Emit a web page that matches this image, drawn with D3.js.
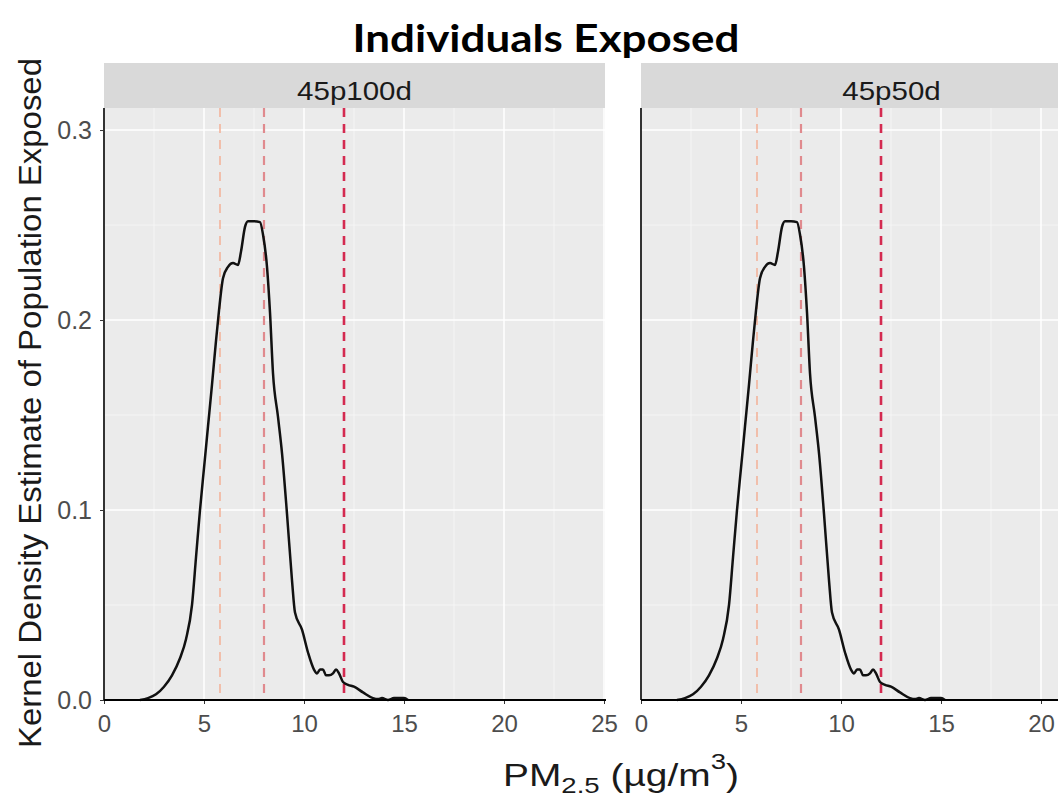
<!DOCTYPE html>
<html>
<head>
<meta charset="utf-8">
<script src="https://cdn.jsdelivr.net/npm/d3@7"></script>
<style>
  body { margin: 0; background: #fff; }
  svg { display: block; }
</style>
</head>
<body>
<script>
// facets and the density curve
var facets = ["45p100d", "45p50d"];
var pmX = [1.8, 2.2, 2.6, 3.0, 3.4, 3.8, 4.1, 4.4, 4.6, 4.8, 5.0, 5.2, 5.4, 5.6, 5.75, 5.95,
  6.2, 6.45, 6.7, 6.85, 7.05, 7.2, 7.5, 7.8, 7.95, 8.15, 8.3, 8.45, 8.7, 8.9, 9.15,
  9.4, 9.55, 9.9, 10.2, 10.5, 10.65, 10.8, 10.95, 11.1, 11.25, 11.45, 11.6, 11.75,
  11.95, 12.2, 12.5, 12.95, 13.45, 13.7, 13.9, 14.2, 14.5, 15.0, 15.2];
var densityY = [0, 0.001, 0.003, 0.007, 0.013, 0.022, 0.032, 0.05, 0.075, 0.1, 0.122,
  0.144, 0.166, 0.189, 0.205, 0.222, 0.228, 0.230, 0.229, 0.236, 0.249, 0.252, 0.252, 0.2515,
  0.245, 0.228, 0.204, 0.172, 0.149, 0.130, 0.098, 0.063, 0.046, 0.037, 0.025, 0.016,
  0.014, 0.016, 0.016, 0.013, 0.013, 0.014, 0.016, 0.014, 0.0095, 0.008, 0.007, 0.004,
  0.001, 0.0005, 0.001, 0, 0.001, 0.001, 0];
// reference lines (PM2.5 thresholds)
var refValues = [5.8, 8, 12];
var refColors = ["#f3b49c", "#e08a8e", "#d42a50"];
var refWidths = [1.6, 2.2, 2.6];
var xTicks = [0, 5, 10, 15, 20, 25];
var yTicks = [0, 0.1, 0.2, 0.3];

var totalWidth = 1058, totalHeight = 797;
var panelTop = 108, panelBottom = 700, panelW = 501;
var panelLeft = [104, 641];
var stripTop = 63;
var sans = "Liberation Sans, Arial, sans-serif";

var svg = d3.select("body").append("svg")
    .attr("width", totalWidth)
    .attr("height", totalHeight);

svg.append("rect").attr("width", totalWidth).attr("height", totalHeight).attr("fill", "#fff");

var x = d3.scaleLinear().domain([0, 25]).range([0, 500]);
var y = d3.scaleLinear().domain([0, 0.3116]).range([panelBottom - panelTop, 0]);

var points = pmX.map(function(d, i) { return [d, densityY[i]]; });
var line = d3.line()
    .x(function(d) { return x(d[0]); })
    .y(function(d) { return y(d[1]); })
    .curve(d3.curveMonotoneX);

facets.forEach(function(name, i) {
    var g = svg.append("g")
        .attr("transform", "translate(" + panelLeft[i] + "," + panelTop + ")");
    var h = panelBottom - panelTop;

    g.append("rect").attr("width", panelW).attr("height", h).attr("fill", "#ebebeb");

    // minor grid
    d3.range(2.5, 25, 5).forEach(function(v) {
        g.append("line").attr("x1", x(v)).attr("x2", x(v)).attr("y1", 0).attr("y2", h)
            .attr("stroke", "#f7f7f7").attr("stroke-width", 0.8);
    });
    [0.05, 0.15, 0.25].forEach(function(v) {
        g.append("line").attr("x1", 0).attr("x2", panelW).attr("y1", y(v)).attr("y2", y(v))
            .attr("stroke", "#f7f7f7").attr("stroke-width", 0.8);
    });
    // major grid
    xTicks.forEach(function(v) {
        g.append("line").attr("x1", x(v)).attr("x2", x(v)).attr("y1", 0).attr("y2", h)
            .attr("stroke", "#fff").attr("stroke-width", 1.5);
    });
    yTicks.forEach(function(v) {
        g.append("line").attr("x1", 0).attr("x2", panelW).attr("y1", y(v)).attr("y2", y(v))
            .attr("stroke", "#fff").attr("stroke-width", 1.5);
    });

    // dashed reference lines
    g.selectAll("line.ref")
        .data(refValues)
        .enter()
        .append("line")
            .attr("class", "ref")
            .attr("x1", function(d) { return x(d); })
            .attr("x2", function(d) { return x(d); })
            .attr("y1", 0).attr("y2", h)
            .attr("stroke", function(d, j) { return refColors[j]; })
            .attr("stroke-width", function(d, j) { return refWidths[j]; })
            .attr("stroke-dasharray", "9,7");

    g.append("path")
        .attr("d", line(points))
        .attr("fill", "none")
        .attr("stroke", "#111")
        .attr("stroke-width", 2.5)
        .attr("stroke-linejoin", "round");

    // axes
    var xAxis = d3.axisBottom(x).tickValues(xTicks).tickSize(4).tickPadding(11);
    var ax = g.append("g").attr("transform", "translate(0," + h + ")").call(xAxis);
    ax.select(".domain").remove();
    ax.selectAll(".tick line").attr("stroke", "#333");
    ax.selectAll("text").attr("fill", "#4d4d4d").style("font-family", sans)
        .style("font-size", "24px");

    g.append("line").attr("x1", 0).attr("x2", panelW + 1).attr("y1", h).attr("y2", h)
        .attr("stroke", "#000").attr("stroke-width", 2);
    g.append("line").attr("x1", 0).attr("x2", 0).attr("y1", 0).attr("y2", h)
        .attr("stroke", "#000").attr("stroke-width", 1.6);

    if (i === 0) {
        var yAxis = d3.axisLeft(y).tickValues(yTicks).tickFormat(d3.format(".1f")).tickSize(4).tickPadding(8);
        var ay = g.append("g").call(yAxis);
        ay.select(".domain").remove();
        ay.selectAll(".tick line").attr("stroke", "#333");
        ay.selectAll("text").attr("fill", "#4d4d4d").style("font-family", sans)
            .style("font-size", "25px");
    }

    // strip
    svg.append("rect")
        .attr("x", panelLeft[i]).attr("y", stripTop)
        .attr("width", panelW).attr("height", panelTop - stripTop)
        .attr("fill", "#d9d9d9");
    svg.append("text")
        .attr("x", panelLeft[i] + panelW / 2).attr("y", stripTop + 37)
        .attr("text-anchor", "middle")
        .attr("fill", "#1a1a1a")
        .attr("textLength", name.length * 16.4)
        .attr("lengthAdjust", "spacingAndGlyphs")
        .style("font-family", sans)
        .style("font-size", "25px")
        .text(name);
});

// stretch a text horizontally so that it spans the width seen in the picture
function fitWidth(sel, cx, by, w) {
    var bb = sel.node().getBBox();
    var s = w / bb.width;
    sel.attr("transform", "translate(" + cx + "," + by + ") scale(" + s + ",1)");
}

// title
var title = svg.append("text")
    .attr("text-anchor", "middle")
    .style("font-family", "Lato, sans-serif")
    .style("font-weight", "bold")
    .style("font-size", "38px")
    .text("Individuals Exposed");
fitWidth(title, 546, 52, 387);

// y label
svg.append("text")
    .attr("transform", "translate(41,403) rotate(-90)")
    .attr("text-anchor", "middle")
    .attr("fill", "#1a1a1a")
    .attr("textLength", 690)
    .attr("lengthAdjust", "spacingAndGlyphs")
    .style("font-family", sans)
    .style("font-size", "31px")
    .text("Kernel Density Estimate of Population Exposed");

// x label
var xl = svg.append("text")
    .attr("text-anchor", "middle")
    .attr("fill", "#1a1a1a")
    .style("font-family", sans)
    .style("font-size", "31px");
xl.append("tspan").text("PM");
xl.append("tspan").attr("dy", 7).style("font-size", "22px").text("2.5");
xl.append("tspan").attr("dy", -7).text(" (\u00b5g/m");
xl.append("tspan").attr("dy", -17).style("font-size", "22px").text("3");
xl.append("tspan").attr("dy", 17).text(")");
fitWidth(xl, 621, 786, 236);
</script>
</body>
</html>
